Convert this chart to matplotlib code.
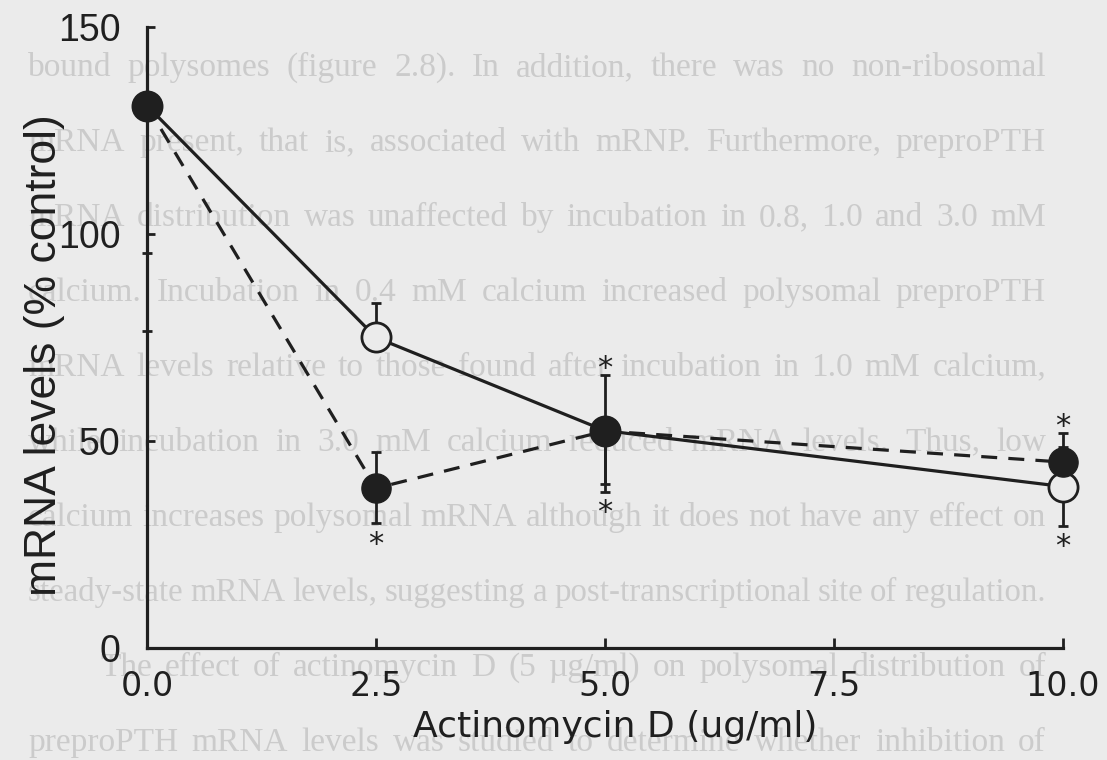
import numpy as np
import matplotlib
matplotlib.use("Agg")
import matplotlib.pyplot as plt

# ---- data ----
dose = [0.0, 2.5, 5.0, 10.0]
# solid line, open circles
open_y  = [131.0, 75.0, 52.5, 39.0]
open_lo = [35.5, 0.0, 14.7, 9.5]
open_hi = [0.0, 8.3, 0.0, 9.5]
# dashed line, filled circles
fill_y  = [131.0, 38.6, 52.4, 44.9]
fill_lo = [54.4, 8.5, 12.8, 7.0]
fill_hi = [0.0, 8.7, 13.5, 7.0]
# significance asterisks: dose, series, side (+1 above, -1 below)
star_x      = [2.5, 5.0, 5.0, 10.0, 10.0]
star_series = ["fill", "fill", "open", "fill", "open"]
star_side   = [-1, 1, -1, 1, -1]

xticks = [0.0, 2.5, 5.0, 7.5, 10.0]
xticklabels = ["0.0", "2.5", "5.0", "7.5", "10.0"]
yticks = [0, 50, 100, 150]

# faint page text showing through the scan
page_lines = [
    "bound polysomes (figure 2.8).  In addition, there was no non-ribosomal",
    "mRNA present, that is, associated with mRNP.  Furthermore, preproPTH",
    "mRNA distribution was unaffected by incubation in 0.8, 1.0 and 3.0 mM",
    "calcium.  Incubation in 0.4 mM calcium increased polysomal preproPTH",
    "mRNA levels relative to those found after incubation in 1.0 mM calcium,",
    "while incubation in 3.0 mM calcium reduced mRNA levels.  Thus, low",
    "calcium increases polysomal mRNA although it does not have any effect on",
    "steady-state mRNA levels, suggesting a post-transcriptional site of regulation.",
    "The effect of actinomycin D (5 \u00b5g/ml) on polysomal distribution of",
    "preproPTH mRNA levels was studied to determine whether inhibition of",
]

W, H = 1107, 760
bg = "#ebebeb"
ink = "#1f1f1f"
page_col = "#cbcbcb"

fig = plt.figure(figsize=(W / 100, H / 100), dpi=100, facecolor=bg)
ax = fig.add_axes([147 / W, 112 / H, 916 / W, 621 / H])
ax.set_facecolor("none")

# background page text, justified word by word
r = fig.canvas.get_renderer()
for i, line in enumerate(page_lines):
    base = 76 + 75 * i
    left = 100 if line.startswith("The effect") else 28
    right = 1046
    words = line.split()
    size = 24
    txts = [fig.text(0, 1 - base / H, w, fontsize=size, family="Liberation Serif",
                     color=page_col, zorder=-5) for w in words]
    widths = [t.get_window_extent(r).width for t in txts]
    min_gap = 7
    if sum(widths) + min_gap * (len(words) - 1) > right - left:
        size = size * (right - left - min_gap * (len(words) - 1)) / sum(widths)
        for t in txts:
            t.set_fontsize(size)
        widths = [t.get_window_extent(r).width for t in txts]
    gap = (right - left - sum(widths)) / (len(words) - 1)
    x = left
    for t, w in zip(txts, widths):
        t.set_x(x / W)
        x += w + gap

# lines
ax.plot(dose, open_y, color=ink, lw=2.3, zorder=2, clip_on=False)
ax.plot(dose, fill_y, color=ink, lw=2.3, dashes=(5, 3.5), zorder=2, clip_on=False)

# error bars
ax.errorbar(dose, open_y, yerr=[open_lo, open_hi], fmt="none", ecolor=ink,
            elinewidth=2, capsize=3.8, capthick=2, zorder=3, clip_on=False)
ax.errorbar(dose, fill_y, yerr=[fill_lo, fill_hi], fmt="none", ecolor=ink,
            elinewidth=2, capsize=3.8, capthick=2, zorder=3, clip_on=False)

# markers
ax.plot(dose, open_y, "o", ms=21, mfc=bg, mec=ink, mew=2, zorder=4, clip_on=False)
ax.plot(dose, fill_y, "o", ms=21, mfc=ink, mec=ink, mew=1, zorder=5, clip_on=False)

# asterisks beyond the error caps
series = {"open": (open_y, open_lo, open_hi), "fill": (fill_y, fill_lo, fill_hi)}
for sx, ss, side in zip(star_x, star_series, star_side):
    yv, lo, hi = series[ss]
    k = dose.index(sx)
    yc = yv[k] + hi[k] if side > 0 else yv[k] - lo[k]
    ax.annotate("*", (sx, yc), xytext=(0, side * 10 - 5), textcoords="offset points",
                ha="center", va="center", fontsize=22, color=ink, zorder=6,
                annotation_clip=False)

ax.set_xlim(0, 10)
ax.set_ylim(0, 150)
for s in ["top", "right"]:
    ax.spines[s].set_visible(False)
for s in ["left", "bottom"]:
    ax.spines[s].set_linewidth(2.3)
    ax.spines[s].set_color(ink)

ax.set_xticks(xticks)
ax.set_xticklabels(xticklabels, family="DejaVu Sans", fontsize=24, color=ink)
ax.set_yticks(yticks)
ax.set_yticklabels([str(v) for v in yticks], family="Liberation Sans", fontsize=27, color=ink)
ax.tick_params(axis="x", direction="in", length=7, width=2, color=ink, pad=16)
ax.tick_params(axis="y", direction="in", length=6, width=2, color=ink, pad=19)

ax.set_xlabel("Actinomycin D (ug/ml)", family="DejaVu Sans", fontsize=26, color=ink)
ax.xaxis.set_label_coords(0.511, -0.1)
ax.set_ylabel("mRNA levels (% control)", family="Liberation Sans", fontsize=32, color=ink)
ax.yaxis.set_label_coords(-0.09, 0.472)

fig.savefig("out.png", dpi=100, facecolor=bg)
